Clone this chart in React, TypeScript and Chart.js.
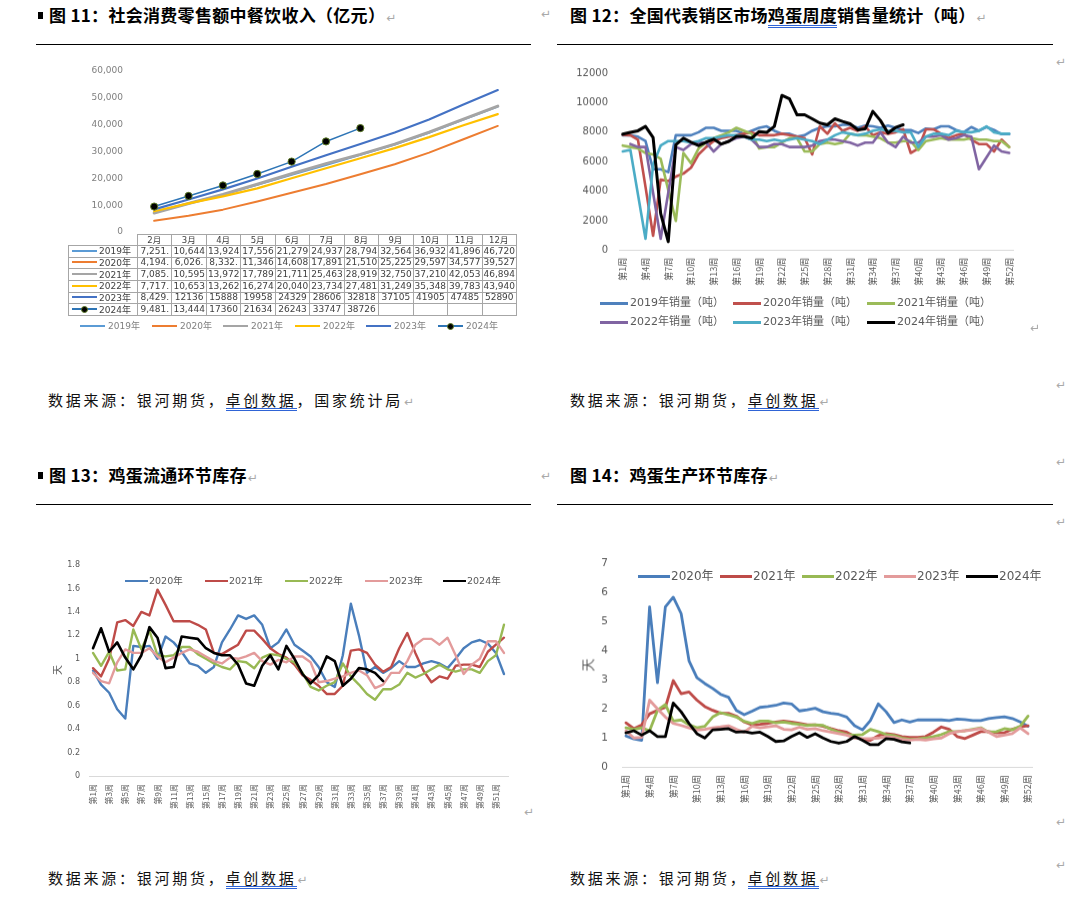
import React, { useEffect, useRef } from 'react';
import { Chart, registerables } from 'chart.js';

Chart.register(...registerables);

// ---------------- Figure 11 data (table text as shown) ----------------
const months11 = ['2月', '3月', '4月', '5月', '6月', '7月', '8月', '9月', '10月', '11月', '12月'];
const cells2019 = ['7,251.', '10,644', '13,924', '17,556', '21,279', '24,937', '28,794', '32,564', '36,932', '41,896', '46,720'];
const cells2020 = ['4,194.', '6,026.', '8,332.', '11,346', '14,608', '17,891', '21,510', '25,225', '29,597', '34,577', '39,527'];
const cells2021 = ['7,085.', '10,595', '13,972', '17,789', '21,711', '25,463', '28,919', '32,750', '37,210', '42,053', '46,894'];
const cells2022 = ['7,717.', '10,653', '13,262', '16,274', '20,040', '23,734', '27,481', '31,249', '35,348', '39,783', '43,940'];
const cells2023 = ['8,429.', '12136', '15888', '19958', '24329', '28606', '32818', '37105', '41905', '47485', '52890'];
const cells2024 = ['9,481.', '13,444', '17360', '21634', '26243', '33747', '38726'];
const yTicks11 = [0, 10000, 20000, 30000, 40000, 50000, 60000];

// ---------------- Figure 12 data (tons) ----------------
const sales2019 = [7800, 7800, 7700, 7400, 5500, 5500, 5300, 7800, 7800, 7800, 8000, 8300, 8300, 8100, 8100, 8100, 7900, 8100, 8300, 8400, 8100, 7900, 7900, 7700, 7800, 8100, 8300, 8400, 8400, 8500, 8500, 8300, 8450, 8400, 8300, 8450, 8300, 8150, 8150, 7950, 8250, 8200, 8400, 8400, 8150, 8000, 8350, 8100, 8350, 8150, 7870, 7870];
const sales2020 = [7830, 7800, 7500, 4300, 1000, 4800, 4700, 5000, 5200, 5600, 6500, 7000, 7400, 7600, 7700, 7800, 7900, 8000, 7800, 7800, 7800, 7900, 7800, 7700, 7600, 6500, 8400, 7900, 8600, 8100, 8300, 8100, 8400, 7800, 8000, 7900, 8000, 8200, 6600, 6900, 8200, 8200, 7900, 7600, 7800, 7900, 7500, 7200, 7200, 6700, 7500, 7000];
const sales2021 = [7100, 7000, 6900, 6600, 6500, 6200, 4100, 2000, 6600, 5900, 6900, 7300, 7600, 7800, 8000, 8300, 8100, 7900, 6900, 7000, 7000, 7300, 7600, 7600, 6700, 6700, 7200, 7300, 7200, 7300, 7900, 7800, 7800, 7700, 7600, 7300, 7300, 7400, 7400, 6800, 7400, 7500, 7600, 7500, 7500, 7500, 7600, 7500, 7500, 7400, 7400, 7000];
const sales2022 = [null, 7200, 7000, 7000, 3900, 800, 3900, 7000, 6800, 7200, 7300, 7300, 6700, 7200, 7400, 7600, 7700, 7500, 7000, 7000, 7200, 7200, 7000, 7000, 7000, 7100, 7400, 7500, 7500, 7400, 7300, 7100, 7300, 7300, 8000, 7300, 7000, 7700, 7300, 7300, 7700, 7700, 7800, 7500, 7600, 7800, 7700, 5500, 6300, 7100, 6700, 6600];
const sales2023 = [6700, 6800, 3800, 800, 5800, 7100, 7400, 7400, 7400, 7300, 7400, 7600, 7600, 7700, 7800, 7800, 7700, 7500, 7500, 7400, 7500, 7400, 7500, 7600, 7500, 7400, 7200, 7500, 7800, 8000, 7900, 7800, 7900, 8100, 8200, 8100, 8100, 8000, 8000, 7000, 7700, 7900, 7900, 7800, 8100, 8000, 8000, 8100, 8400, 8000, 7900, 7900];
const sales2024 = [7870, 7990, 8100, 8390, 7650, 2500, 600, 7150, 7600, 7330, 7100, 7330, 7530, 7200, 7380, 7720, 7720, 7600, 8050, 7990, 8390, 10490, 10260, 9180, 9180, 8910, 8620, 8500, 8910, 8730, 8570, 8170, 8230, 9410, 8800, 7940, 8320, 8500];
const yTicks12 = [0, 2000, 4000, 6000, 8000, 10000, 12000];

// ---------------- Figure 13 data (days) ----------------
const flow2020 = [0.90, 0.78, 0.71, 0.57, 0.49, 1.11, 1.10, 1.11, 1.00, 1.19, 1.14, 1.06, 0.96, 0.94, 0.88, 0.93, 1.14, 1.25, 1.37, 1.34, 1.37, 1.29, 1.09, 1.14, 1.25, 1.12, 1.07, 1.02, 0.93, 0.80, 0.76, 1.03, 1.47, 1.20, 0.88, 0.93, 0.88, 0.92, 0.98, 0.93, 0.93, 0.96, 0.98, 0.96, 0.92, 1.00, 1.09, 1.14, 1.16, 1.13, 1.05, 0.87];
const flow2021 = [0.92, 0.85, 1.00, 1.31, 1.33, 1.28, 1.40, 1.37, 1.59, 1.46, 1.32, 1.32, 1.32, 1.29, 1.25, 1.05, 1.04, 1.08, 1.12, 1.24, 1.24, 1.17, 1.09, 1.04, 1.01, 0.95, 0.86, 0.82, 0.77, 0.70, 0.70, 0.77, 1.07, 1.08, 1.05, 0.95, 0.89, 0.93, 1.09, 1.22, 1.05, 0.90, 0.80, 0.85, 0.83, 0.94, 0.95, 0.95, 0.93, 1.06, 1.12, 1.18];
const flow2022 = [1.05, 0.94, 1.06, 0.90, 0.91, 1.25, 1.08, 1.24, 1.03, 1.02, 1.03, 1.10, 1.10, 1.04, 1.00, 0.96, 0.93, 0.91, 0.98, 0.97, 0.92, 1.01, 1.04, 1.03, 1.00, 0.97, 0.88, 0.76, 0.73, 0.77, 0.80, 0.96, 0.85, 0.78, 0.70, 0.65, 0.74, 0.74, 0.78, 0.88, 0.84, 0.87, 0.91, 0.95, 0.91, 0.89, 0.91, 0.91, 0.88, 0.98, 1.03, 1.29];
const flow2023 = [0.88, 0.81, 0.79, 0.97, 1.08, 1.05, 1.05, 1.09, 1.02, 0.97, 1.01, 1.05, 1.08, 1.06, 1.02, 0.98, 0.96, 1.01, 1.00, 1.02, 1.05, 0.98, 0.95, 0.99, 0.97, 1.02, 1.02, 0.97, 0.80, 0.81, 0.83, 0.85, 0.88, 0.90, 0.86, 0.75, 0.78, 0.88, 0.88, 0.98, 1.12, 1.17, 1.17, 1.12, 1.18, 1.03, 0.87, 0.95, 1.00, 1.15, 1.15, 1.05];
const flow2024 = [1.09, 1.26, 1.06, 1.14, 1.01, 0.91, 1.03, 1.27, 1.18, 0.92, 0.93, 1.19, 1.18, 1.17, 1.09, 1.05, 1.03, 1.03, 0.95, 0.79, 0.77, 0.94, 1.03, 0.91, 1.11, 1.00, 0.87, 0.79, 0.86, 1.02, 0.98, 0.77, 0.83, 0.92, 0.91, 0.88, 0.81];
const yTicks13 = [0, 0.2, 0.4, 0.6, 0.8, 1, 1.2, 1.4, 1.6, 1.8];

// ---------------- Figure 14 data (days) ----------------
const prod2020 = [1.07, 0.97, 0.92, 5.50, 2.90, 5.50, 5.83, 5.27, 3.65, 3.07, 2.87, 2.70, 2.50, 2.40, 1.95, 1.80, 1.92, 2.05, 2.08, 2.12, 2.20, 2.17, 1.93, 1.97, 2.02, 1.90, 1.85, 1.81, 1.72, 1.42, 1.28, 1.60, 2.17, 1.90, 1.53, 1.62, 1.55, 1.62, 1.62, 1.62, 1.62, 1.60, 1.65, 1.63, 1.60, 1.60, 1.67, 1.70, 1.73, 1.67, 1.55, 1.40];
const prod2021 = [1.52, 1.32, 1.45, 1.83, 1.95, 2.05, 2.97, 2.52, 2.58, 2.30, 2.08, 1.95, 1.85, 1.85, 1.75, 1.55, 1.45, 1.47, 1.50, 1.55, 1.58, 1.55, 1.50, 1.45, 1.45, 1.40, 1.32, 1.25, 1.20, 1.05, 0.95, 0.92, 1.08, 1.15, 1.12, 1.05, 1.02, 1.02, 1.05, 1.20, 1.38, 1.30, 1.05, 0.98, 1.10, 1.22, 1.22, 1.18, 1.18, 1.30, 1.38, 1.42];
const prod2022 = [1.35, 1.30, 1.35, 1.25, 1.95, 2.15, 1.58, 1.62, 1.45, 1.35, 1.40, 1.72, 1.87, 1.80, 1.72, 1.57, 1.50, 1.58, 1.58, 1.52, 1.55, 1.50, 1.47, 1.43, 1.45, 1.43, 1.30, 1.20, 1.12, 1.10, 1.12, 1.30, 1.22, 1.12, 1.08, 1.00, 0.95, 0.97, 1.00, 1.05, 1.12, 1.22, 1.22, 1.25, 1.30, 1.35, 1.20, 1.22, 1.32, 1.28, 1.40, 1.75];
const prod2023 = [1.25, 1.00, 1.02, 2.30, 2.00, 1.72, 1.50, 1.43, 1.35, 1.27, 1.30, 1.35, 1.38, 1.42, 1.30, 1.20, 1.40, 1.35, 1.38, 1.42, 1.30, 1.28, 1.37, 1.30, 1.32, 1.25, 1.20, 1.15, 1.10, 1.00, 0.98, 0.98, 1.00, 1.05, 1.02, 0.95, 0.93, 0.95, 0.93, 0.97, 1.00, 1.15, 1.22, 1.25, 1.28, 1.33, 1.20, 1.05, 1.10, 1.15, 1.35, 1.15];
const prod2024 = [1.18, 1.25, 1.10, 1.25, 1.05, 1.05, 2.20, 1.90, 1.50, 1.15, 1.00, 1.28, 1.30, 1.32, 1.20, 1.22, 1.17, 1.20, 1.05, 0.88, 0.90, 1.05, 1.18, 1.02, 1.15, 1.00, 0.88, 0.82, 0.88, 1.05, 0.92, 0.77, 0.77, 0.98, 0.95, 0.87, 0.83];
const yTicks14 = [0, 1, 2, 3, 4, 5, 6, 7];

const weekLabels = Array.from({ length: 52 }, (_, i) => `第${i + 1}周`);

const num = (s: string) => parseFloat(s.replace(/,/g, ''));

// ---------------- series styling ----------------
const fig11Series = [
  { name: '2019年', cells: cells2019, color: '#5B9BD5', width: 2 },
  { name: '2020年', cells: cells2020, color: '#ED7D31', width: 2 },
  { name: '2021年', cells: cells2021, color: '#A5A5A5', width: 3 },
  { name: '2022年', cells: cells2022, color: '#FFC000', width: 2.2 },
  { name: '2023年', cells: cells2023, color: '#4472C4', width: 2.2 },
  { name: '2024年', cells: cells2024, color: '#2E75B6', width: 1.5, marker: true },
];
const fig12Series = [
  { name: '2019年销量（吨）', data: sales2019, color: '#4F81BD', width: 2.6 },
  { name: '2020年销量（吨）', data: sales2020, color: '#C0504D', width: 2.6 },
  { name: '2021年销量（吨）', data: sales2021, color: '#9BBB59', width: 2.6 },
  { name: '2022年销量（吨）', data: sales2022, color: '#8064A2', width: 2.6 },
  { name: '2023年销量（吨）', data: sales2023, color: '#4BACC6', width: 2.6 },
  { name: '2024年销量（吨）', data: sales2024, color: '#000000', width: 3 },
];
const fig13Series = [
  { name: '2020年', data: flow2020, color: '#4A7EBB', width: 2.4 },
  { name: '2021年', data: flow2021, color: '#BE4B48', width: 2.4 },
  { name: '2022年', data: flow2022, color: '#98B954', width: 2.4 },
  { name: '2023年', data: flow2023, color: '#E39B9B', width: 2.4 },
  { name: '2024年', data: flow2024, color: '#000000', width: 2.6 },
];
const fig14Series = [
  { name: '2020年', data: prod2020, color: '#4A7EBB', width: 2.8 },
  { name: '2021年', data: prod2021, color: '#BE4B48', width: 2.8 },
  { name: '2022年', data: prod2022, color: '#98B954', width: 2.8 },
  { name: '2023年', data: prod2023, color: '#E39B9B', width: 2.8 },
  { name: '2024年', data: prod2024, color: '#000000', width: 2.8 },
];

const CJK = '"Noto Sans CJK SC", sans-serif';
const NUM = '"DejaVu Sans", "Noto Sans CJK SC", sans-serif';
const AX = '#595959';

type Opt = {
  padTop: number; padRight: number; padBottom?: number;
  yWidth: number; yMax: number; yTicks: number[]; yFmt: (v: number) => string; ySize: number; yPad: number; yColor?: string;
  xShow: boolean; labels: string[]; xEvery?: number; xSize?: number; xPad?: number; xHeight?: number;
};

function buildOptions(p: Opt): any {
  return {
    animation: false,
    responsive: false,
    events: [],
    layout: { padding: { top: p.padTop, right: p.padRight, left: 0, bottom: p.padBottom ?? 0 } },
    plugins: { legend: { display: false }, tooltip: { enabled: false }, title: { display: false } },
    elements: { point: { radius: 0 }, line: { tension: 0, borderJoinStyle: 'round', borderCapStyle: 'round' } },
    scales: {
      x: p.xShow
        ? {
            type: 'category',
            offset: true,
            grid: { display: false, drawTicks: false },
            border: { display: true, color: '#D9D9D9', width: 1 },
            ticks: {
              autoSkip: false,
              minRotation: 90,
              maxRotation: 90,
              padding: p.xPad,
              color: AX,
              font: { family: CJK, size: p.xSize },
              callback: (_v: any, i: number) => (i % (p.xEvery || 1) === 0 ? p.labels[i] : ''),
            },
            afterFit: (s: any) => { s.height = p.xHeight; },
          }
        : { type: 'category', offset: true, display: false },
      y: {
        min: 0,
        max: p.yMax,
        grid: { display: false, drawTicks: false },
        border: { display: false },
        afterBuildTicks: (s: any) => { s.ticks = p.yTicks.map((v) => ({ value: v })); },
        ticks: { padding: p.yPad, color: p.yColor ?? AX, font: { family: NUM, size: p.ySize }, callback: (v: any) => p.yFmt(Number(v)) },
        afterFit: (s: any) => { s.width = p.yWidth; },
      },
    },
  };
}

function ChartBox({ left, top, width, height, make }: { left: number; top: number; width: number; height: number; make: () => any }) {
  const ref = useRef<HTMLCanvasElement>(null);
  useEffect(() => {
    const c = new Chart(ref.current as HTMLCanvasElement, make());
    return () => c.destroy();
  }, []);
  return <canvas ref={ref} width={width} height={height} style={{ position: 'absolute', left, top, width, height }} />;
}

const makeFig11 = () => ({
  type: 'line',
  data: {
    labels: months11,
    datasets: fig11Series.map((s, i) => ({
      label: s.name,
      data: s.cells.map(num),
      borderColor: s.color,
      backgroundColor: s.color,
      borderWidth: s.width,
      order: fig11Series.length - i,
      pointRadius: s.marker ? 3.6 : 0,
      pointBackgroundColor: '#000',
      pointBorderColor: '#5C7A26',
      pointBorderWidth: 1,
    })),
  },
  options: buildOptions({
    padTop: 22, padRight: 4, padBottom: 22,
    yWidth: 77, yMax: 60000, yTicks: yTicks11, yFmt: (v) => (v === 0 ? '0' : v.toLocaleString('en-US')), ySize: 9, yPad: 14, yColor: '#7F7F7F',
    xShow: false, labels: months11,
  }),
});

const makeWeekly = (series: any[], o: Opt) => () => ({
  type: 'line',
  data: {
    labels: weekLabels,
    datasets: series.map((s, i) => ({
      label: s.name,
      data: s.data,
      borderColor: s.color,
      backgroundColor: s.color,
      borderWidth: s.width,
      order: series.length - i,
    })),
  },
  options: buildOptions(o),
});

const makeFig12 = makeWeekly(fig12Series, {
  padTop: 20, padRight: 17, yWidth: 59, yMax: 12000, yTicks: yTicks12, yFmt: (v) => String(v), ySize: 10, yPad: 11,
  xShow: true, labels: weekLabels, xEvery: 3, xSize: 9, xPad: 7, xHeight: 49.3,
});
const makeFig13 = makeWeekly(fig13Series, {
  padTop: 16, padRight: 14, yWidth: 34, yMax: 1.8, yTicks: yTicks13, yFmt: (v) => String(Math.round(v * 10) / 10), ySize: 8, yPad: 9,
  xShow: true, labels: weekLabels, xEvery: 2, xSize: 8, xPad: 8, xHeight: 54,
});
const makeFig14 = makeWeekly(fig14Series, {
  padTop: 22, padRight: 14, yWidth: 47, yMax: 7, yTicks: yTicks14, yFmt: (v) => String(v), ySize: 10.5, yPad: 14,
  xShow: true, labels: weekLabels, xEvery: 3, xSize: 9, xPad: 8, xHeight: 45.7,
});

// ---------------- HTML pieces ----------------
const markStyle: React.CSSProperties = { color: '#A9A9A9', fontFamily: '"DejaVu Sans"', fontWeight: 400, fontSize: 12, letterSpacing: 0, marginLeft: 1 };

function Mark({ x, y }: { x: number; y: number }) {
  return <span style={{ ...markStyle, position: 'absolute', left: x, top: y - 8, lineHeight: '16px', marginLeft: 0 }}>↵</span>;
}

function U({ h, children }: { h: number; children: React.ReactNode }) {
  return <span style={{ display: 'inline-block', lineHeight: `${h}px`, borderBottom: '3px double #2F64D6' }}>{children}</span>;
}

function Title({ x, y, bullet, children }: { x: number; y: number; bullet?: boolean; children: React.ReactNode }) {
  return (
    <>
      {bullet && <div style={{ position: 'absolute', left: 38, top: y - 3, width: 5, height: 7, background: '#000' }} />}
      <div style={{ position: 'absolute', left: x, top: y - 11, height: 22, lineHeight: '22px', fontSize: 17, fontWeight: 700, fontFamily: CJK, letterSpacing: 0.3, whiteSpace: 'nowrap', color: '#000' }}>
        {children}
        <span style={markStyle}>↵</span>
      </div>
    </>
  );
}

function Source({ x, y, children }: { x: number; y: number; children: React.ReactNode }) {
  return (
    <div style={{ position: 'absolute', left: x, top: y - 11, height: 22, lineHeight: '22px', fontSize: 15, fontFamily: CJK, letterSpacing: 2.75, whiteSpace: 'nowrap', color: '#111' }}>
      {children}
      <span style={markStyle}>↵</span>
    </div>
  );
}

function Rule({ x1, x2, y }: { x1: number; x2: number; y: number }) {
  return <div style={{ position: 'absolute', left: x1, top: y, width: x2 - x1, height: 1, background: '#000' }} />;
}

function LegendItem({ x, y, color, lineW, lineH, text, size, textColor, gap, marker }: any) {
  return (
    <div style={{ position: 'absolute', left: x, top: y - 10, height: 20, display: 'flex', alignItems: 'center', whiteSpace: 'nowrap' }}>
      <div style={{ width: lineW, height: lineH, background: color, position: 'relative' }}>
        {marker && (
          <div style={{ position: 'absolute', left: lineW / 2 - 3.5, top: lineH / 2 - 3.5, width: 7, height: 7, borderRadius: '50%', background: '#000', border: '1px solid #5C7A26', boxSizing: 'border-box' }} />
        )}
      </div>
      <span style={{ marginLeft: gap, fontSize: size, color: textColor, fontFamily: NUM, lineHeight: '20px' }}>{text}</span>
    </div>
  );
}

function Table11() {
  const left0 = 68, colL = 137, colW = (516 - 137) / 11, top0 = 234, headH = 11, rowH = (315 - 245) / 6;
  const line = '#A6A6A6';
  const els: React.ReactNode[] = [];
  els.push(<div key="h0" style={{ position: 'absolute', left: colL, top: top0, width: 516 - colL, height: 1, background: line }} />);
  for (let r = 0; r <= 6; r++) {
    els.push(<div key={'h' + (r + 1)} style={{ position: 'absolute', left: left0, top: top0 + headH + r * rowH, width: 516 - left0 + 1, height: 1, background: line }} />);
  }
  els.push(<div key="v0" style={{ position: 'absolute', left: left0, top: top0 + headH, width: 1, height: 6 * rowH, background: line }} />);
  for (let c = 0; c <= 11; c++) {
    els.push(<div key={'v' + (c + 1)} style={{ position: 'absolute', left: colL + c * colW, top: top0, width: 1, height: headH + 6 * rowH, background: line }} />);
  }
  months11.forEach((m, c) => {
    els.push(
      <div key={'m' + c} style={{ position: 'absolute', left: colL + c * colW, top: top0, width: colW, height: headH + 1, lineHeight: `${headH + 1}px`, textAlign: 'center', fontSize: 8.5, fontFamily: NUM, color: '#404040', whiteSpace: 'nowrap' }}>{m}</div>
    );
  });
  fig11Series.forEach((s, r) => {
    const ty = top0 + headH + r * rowH;
    els.push(
      <div key={'k' + r} style={{ position: 'absolute', left: 72, top: ty, height: rowH, display: 'flex', alignItems: 'center', whiteSpace: 'nowrap' }}>
        <div style={{ width: 25, height: 2, background: s.color, position: 'relative' }}>
          {s.marker && <div style={{ position: 'absolute', left: 9, top: -2.5, width: 7, height: 7, borderRadius: '50%', background: '#000', border: '1px solid #5C7A26', boxSizing: 'border-box' }} />}
        </div>
        <span style={{ marginLeft: 2, fontSize: 9, fontFamily: NUM, color: '#404040' }}>{s.name}</span>
      </div>
    );
    s.cells.forEach((t, c) => {
      els.push(
        <div key={'c' + r + '_' + c} style={{ position: 'absolute', left: colL + c * colW + 1, top: ty + 0.5, width: colW - 1, height: rowH, lineHeight: `${rowH}px`, textAlign: 'center', fontSize: 9, fontFamily: NUM, color: '#404040', whiteSpace: 'nowrap', overflow: 'hidden' }}>{t}</div>
      );
    });
  });
  return <>{els}</>;
}

export default function App() {
  const leg11X = [80, 152, 223, 295, 366, 438];
  const leg12X = [600, 733, 867];
  const leg12Y = [303, 322];
  const leg13X = [125, 205, 285, 365, 443];
  const leg14X = [638, 720, 802, 884, 966];
  return (
    <div style={{ position: 'absolute', left: 0, top: 0, width: 1080, height: 901, background: '#fff', overflow: 'hidden' }}>
      {/* Titles row 1 */}
      <Title x={49} y={15} bullet>图 11：社会消费零售额中餐饮收入（亿元）</Title>
      <Mark x={541} y={14} />
      <Title x={570} y={15}>图 12：全国代表销区市场<U h={20}>鸡蛋周度</U>销售量统计（吨）</Title>
      <Rule x1={36} x2={531} y={44} />
      <Rule x1={557} x2={1053} y={44} />
      <Mark x={1056} y={62} />

      {/* Figure 11: chart area 137..516 x 70.7..232 */}
      <ChartBox left={60} top={48.7} width={460} height={205.3} make={makeFig11} />
      <Table11 />
      {fig11Series.map((s, i) => (
        <LegendItem key={s.name} x={leg11X[i]} y={326} color={s.color} lineW={25} lineH={2.5} text={s.name} size={9} textColor="#808080" gap={3} marker={s.marker} />
      ))}

      {/* Figure 12: chart area 619..1013 x 73.3..250.7 */}
      <ChartBox left={560} top={53.3} width={470} height={246.7} make={makeFig12} />
      {fig12Series.map((s, i) => (
        <LegendItem key={s.name} x={leg12X[i % 3]} y={leg12Y[Math.floor(i / 3)]} color={s.color} lineW={28} lineH={3} text={s.name} size={11} textColor={AX} gap={2} />
      ))}
      <Mark x={1030} y={328} />

      <Source x={48} y={400}>数据来源：银河期货，<U h={17}>卓创数据</U>，国家统计局</Source>
      <Source x={570} y={400}>数据来源：银河期货，<U h={17}>卓创数据</U></Source>
      <Mark x={1056} y={385} />
      <Mark x={1056} y={462} />

      {/* Titles row 2 */}
      <Title x={49} y={475} bullet>图 13：鸡蛋流通环节库存</Title>
      <Mark x={541} y={476} />
      <Title x={570} y={475}>图 14：鸡蛋生产环节库存</Title>
      <Rule x1={36} x2={531} y={504} />
      <Rule x1={557} x2={1053} y={504} />
      <Mark x={1056} y={522} />

      {/* Figure 13: chart area 89..508 x 565..776 */}
      <ChartBox left={55} top={549} width={467} height={281} make={makeFig13} />
      {fig13Series.map((s, i) => (
        <LegendItem key={s.name} x={leg13X[i]} y={581} color={s.color} lineW={23} lineH={2.5} text={s.name} size={9.5} textColor={AX} gap={1} />
      ))}
      <div style={{ position: 'absolute', left: 51, top: 663, width: 12, height: 14, lineHeight: '14px', fontSize: 10, fontFamily: CJK, color: AX, transform: 'rotate(-90deg)', textAlign: 'center' }}>天</div>
      <Mark x={524} y={812} />

      {/* Figure 14: chart area 622..1033 x 563.3..767.3 */}
      <ChartBox left={575} top={541.3} width={472} height={271.7} make={makeFig14} />
      {fig14Series.map((s, i) => (
        <LegendItem key={s.name} x={leg14X[i]} y={576} color={s.color} lineW={32} lineH={3} text={s.name} size={12} textColor={AX} gap={1} />
      ))}
      <div style={{ position: 'absolute', left: 580, top: 657, width: 15, height: 16, lineHeight: '16px', fontSize: 13, fontFamily: CJK, color: AX, transform: 'rotate(-90deg)', textAlign: 'center' }}>天</div>
      <Mark x={1056} y={822} />

      <Source x={48} y={878}>数据来源：银河期货，<U h={17}>卓创数据</U></Source>
      <Source x={570} y={878}>数据来源：银河期货，<U h={17}>卓创数据</U></Source>
      <Mark x={1056} y={865} />
    </div>
  );
}
